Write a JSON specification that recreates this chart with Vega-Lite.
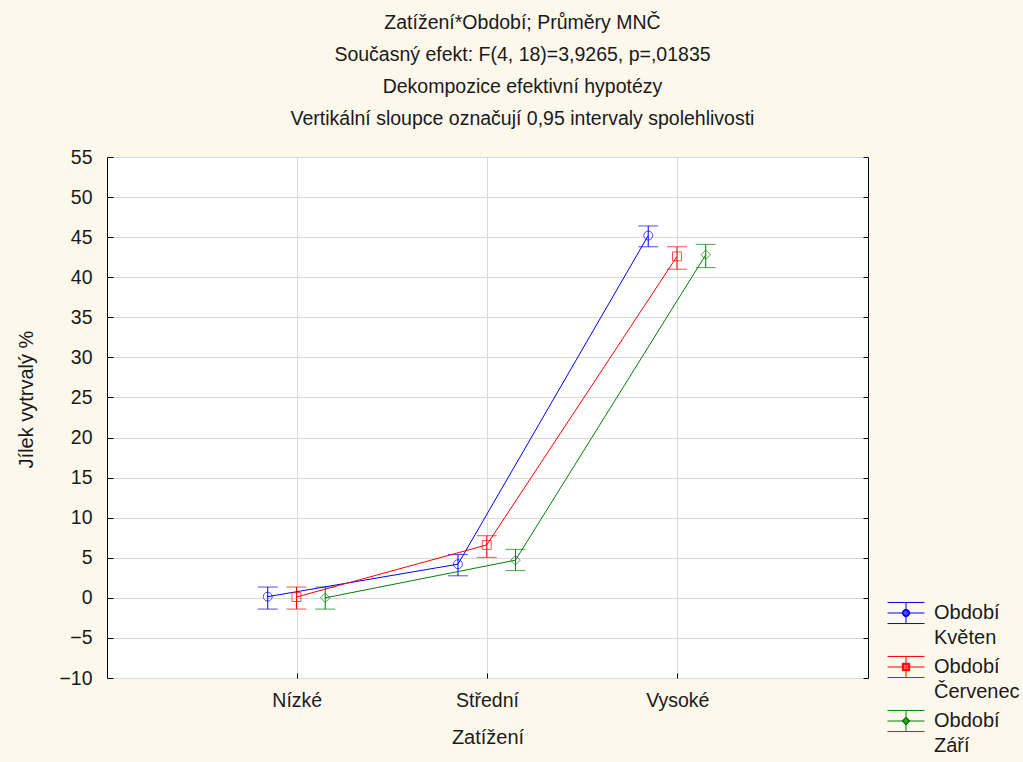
{
  "$schema": "https://vega.github.io/schema/vega-lite/v6.json",
  "autosize": "none",
  "width": 761,
  "height": 521,
  "padding": {"left": 107, "top": 157, "right": 155, "bottom": 84},
  "background": "#fdf8ec",
  "title": {
    "text": ["Zatížení*Období; Průměry MNČ", "Současný efekt: F(4, 18)=3,9265, p=,01835", "Dekompozice efektivní hypotézy", "Vertikální sloupce označují 0,95 intervaly spolehlivosti"],
    "fontSize": 19.5,
    "fontWeight": "normal",
    "font": "Liberation Sans",
    "color": "#1a1a1a",
    "lineHeight": 32,
    "anchor": "middle",
    "dx": 35,
    "offset": 18
  },
  "config": {
    "view": {"stroke": "black", "strokeWidth": 1, "fill": "white"},
    "font": "Liberation Sans",
    "style": {"guide-label": {"lineHeight": 25}}
  },
  "data": {
    "values": [
      {"Zatížení": "Nízké", "Období": "Květen", "mean": 0.15, "lo": -1.4, "hi": 1.35},
      {"Zatížení": "Nízké", "Období": "Červenec", "mean": 0.1, "lo": -1.4, "hi": 1.35},
      {"Zatížení": "Nízké", "Období": "Září", "mean": 0.0, "lo": -1.4, "hi": 1.35},
      {"Zatížení": "Střední", "Období": "Květen", "mean": 4.2, "lo": 2.75, "hi": 5.4},
      {"Zatížení": "Střední", "Období": "Červenec", "mean": 6.6, "lo": 5.05, "hi": 7.75},
      {"Zatížení": "Střední", "Období": "Září", "mean": 4.7, "lo": 3.4, "hi": 6.05},
      {"Zatížení": "Vysoké", "Období": "Květen", "mean": 45.2, "lo": 43.8, "hi": 46.4},
      {"Zatížení": "Vysoké", "Období": "Červenec", "mean": 42.6, "lo": 41.0, "hi": 43.8},
      {"Zatížení": "Vysoké", "Období": "Září", "mean": 42.8, "lo": 41.2, "hi": 44.1}
    ]
  },
  "encoding": {
    "x": {
      "field": "Zatížení",
      "type": "nominal",
      "sort": ["Nízké", "Střední", "Vysoké"],
      "scale": {"domain": ["Nízké", "Střední", "Vysoké"], "paddingInner": 0, "paddingOuter": 0.5},
      "axis": {
        "title": "Zatížení",
        "labelAngle": 0,
        "bandPosition": 0.5,
        "grid": true,
        "gridColor": "#d9d9d9",
        "domain": false,
        "tickColor": "black",
        "tickSize": -5,
        "labelPadding": 18,
        "labelFontSize": 19.5,
        "labelColor": "#1a1a1a",
        "titleFontSize": 20,
        "titleFontWeight": "normal",
        "titleColor": "#1a1a1a",
        "titlePadding": 18
      }
    },
    "xOffset": {
      "field": "Období",
      "type": "nominal",
      "scale": {"type": "point", "domain": ["Květen", "Červenec", "Září"], "range": [65.6, 123.1], "padding": 0}
    },
    "color": {
      "field": "Období",
      "type": "nominal",
      "scale": {"domain": ["Květen", "Červenec", "Září"], "range": ["#0000ff", "#ff0000", "#008000"]},
      "legend": {
        "title": null,
        "orient": "none",
        "legendX": 780,
        "legendY": 437,
        "padding": 0,
        "symbolSize": 1369,
        "symbolStrokeWidth": 1,
        "symbolOpacity": 1,
        "labelOffset": 9,
        "labelFontSize": 20,
        "labelColor": "#1a1a1a",
        "labelExpr": "['Období', datum.label]",
        "rowPadding": 0
      }
    }
  },
  "layer": [
    {
      "mark": {"type": "rule", "strokeWidth": 1},
      "encoding": {
        "y": {
          "field": "lo",
          "type": "quantitative",
          "scale": {"domain": [-10, 55], "nice": false, "zero": false},
          "axis": {
            "title": "Jílek vytrvalý %",
            "titleY": 242,
            "values": [-10, -5, 0, 5, 10, 15, 20, 25, 30, 35, 40, 45, 50, 55],
            "grid": true,
            "gridColor": "#d9d9d9",
            "domain": false,
            "tickColor": "black",
            "tickSize": -6,
            "labelPadding": 21,
            "labelFontSize": 19.5,
            "labelColor": "#1a1a1a",
            "titleFontSize": 20,
            "titleFontWeight": "normal",
            "titleColor": "#1a1a1a",
            "titlePadding": 22
          }
        },
        "y2": {"field": "hi"}
      }
    },
    {
      "mark": {"type": "tick", "size": 20, "thickness": 1, "orient": "horizontal"},
      "encoding": {"y": {"field": "lo", "type": "quantitative", "axis": null}}
    },
    {
      "mark": {"type": "tick", "size": 20, "thickness": 1, "orient": "horizontal"},
      "encoding": {"y": {"field": "hi", "type": "quantitative", "axis": null}}
    },
    {
      "mark": {"type": "line", "strokeWidth": 1},
      "encoding": {
        "y": {
          "field": "mean",
          "type": "quantitative",
          "axis": {
            "orient": "right",
            "title": null,
            "labels": false,
            "grid": false,
            "domain": false,
            "tickColor": "black",
            "tickSize": -5,
            "values": [-10, -5, 0, 5, 10, 15, 20, 25, 30, 35, 40, 45, 50, 55]
          }
        }
      }
    },
    {
      "transform": [{"filter": "datum['Období'] == 'Květen'"}],
      "mark": {"type": "point", "filled": false, "strokeWidth": 1, "shape": "circle", "size": 80},
      "encoding": {"y": {"field": "mean", "type": "quantitative", "axis": null}}
    },
    {
      "transform": [{"filter": "datum['Období'] == 'Červenec'"}],
      "mark": {"type": "point", "filled": false, "strokeWidth": 1, "shape": "square", "size": 80},
      "encoding": {"y": {"field": "mean", "type": "quantitative", "axis": null}}
    },
    {
      "transform": [{"filter": "datum['Období'] == 'Září'"}],
      "mark": {"type": "point", "filled": false, "strokeWidth": 1, "shape": "diamond", "size": 90},
      "encoding": {"y": {"field": "mean", "type": "quantitative", "axis": null}}
    },
    {
      "transform": [{"filter": "false"}],
      "mark": {"type": "point", "filled": false, "strokeWidth": 1},
      "encoding": {
        "y": {"field": "mean", "type": "quantitative", "axis": null},
        "shape": {
          "field": "Období",
          "type": "nominal",
          "scale": {
            "domain": ["Květen", "Červenec", "Září"],
            "range": [
              "M-1,-0.57H1M-1,0H1M-1,0.57H1M0,-0.57V0.57M-0.2,0A0.2,0.2 0 1,0 0.2,0A0.2,0.2 0 1,0 -0.2,0ZM-0.12,0A0.12,0.12 0 1,1 0.12,0A0.12,0.12 0 1,1 -0.12,0Z",
              "M-1,-0.57H1M-1,0H1M-1,0.57H1M0,-0.57V0.57M-0.2,-0.2H0.2V0.2H-0.2ZM-0.12,-0.12V0.12H0.12V-0.12Z",
              "M-1,-0.57H1M-1,0H1M-1,0.57H1M0,-0.57V0.57M0,-0.22L0.22,0L0,0.22L-0.22,0ZM0,-0.13L-0.13,0L0,0.13L0.13,0Z"
            ]
          },
          "legend": {
            "title": null,
            "orient": "none",
            "legendX": 780,
            "legendY": 437,
            "padding": 0,
            "symbolSize": 1369,
            "symbolStrokeWidth": 1,
            "symbolOpacity": 1,
            "labelOffset": 9,
            "labelFontSize": 20,
            "labelColor": "#1a1a1a",
            "labelExpr": "['Období', datum.label]",
            "rowPadding": 0
          }
        }
      }
    }
  ],
  "resolve": {"axis": {"y": "independent"}}
}
